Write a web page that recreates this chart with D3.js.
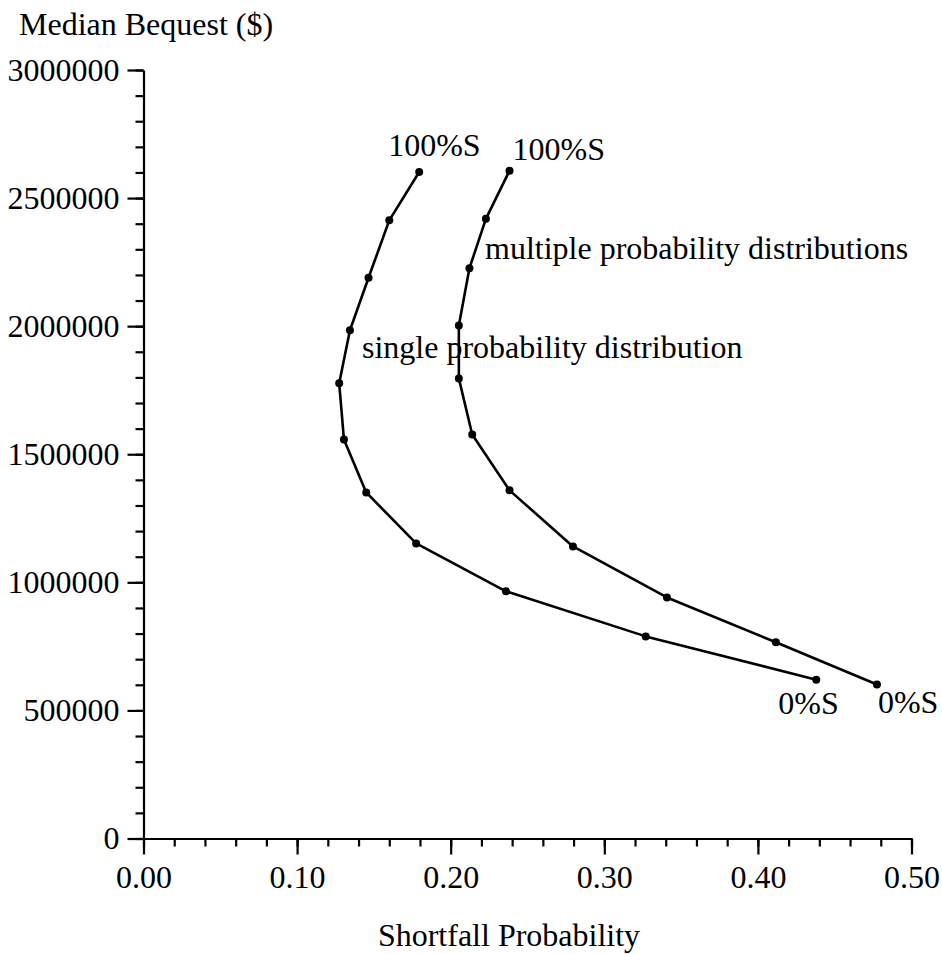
<!DOCTYPE html>
<html>
<head>
<meta charset="utf-8">
<script src="https://cdn.jsdelivr.net/npm/d3@7"></script>
<style>
  body { margin: 0; background: #fff; }
  svg { display: block; }
  text { font-family: "Liberation Serif", "Times New Roman", serif; fill: #000; }
  .axis path, .axis line { stroke: #000; stroke-width: 2.2; }
  .curve { fill: none; stroke: #000; stroke-width: 2.6; stroke-linejoin: round; }
</style>
</head>
<body>
<svg id="chart" width="942" height="954"></svg>
<script>
'use strict';

// single probability distribution (from 0%S at bottom to 100%S at top)
var singleX = [0.438, 0.327, 0.236, 0.1775, 0.145, 0.1305, 0.1274, 0.1344, 0.1465, 0.160, 0.1795];
var singleY = [620000, 789000, 965000, 1152000, 1351000, 1558000, 1777000, 1984000, 2189000, 2413000, 2602000];

// multiple probability distributions
var multiX = [0.4775, 0.4117, 0.3408, 0.2796, 0.2383, 0.214, 0.2053, 0.2053, 0.2122, 0.2229, 0.2383];
var multiY = [601000, 766000, 941000, 1140000, 1359000, 1577000, 1796000, 2003000, 2226000, 2419000, 2607000];

var xTicks = [0, 0.1, 0.2, 0.3, 0.4, 0.5];
var yTicks = [0, 500000, 1000000, 1500000, 2000000, 2500000, 3000000];

var svg = d3.select('#chart'),
    fontSize = 32;

var x = d3.scaleLinear().domain([0, 0.5]).range([143.5, 911.5]),
    y = d3.scaleLinear().domain([0, 3000000]).range([838.5, 70]);

// minor ticks first, majors on top
svg.append('g').attr('class', 'axis')
  .attr('transform', 'translate(0,' + y(0) + ')')
  .call(d3.axisBottom(x).tickValues(d3.range(0, 0.5001, 0.02)).tickSize(8).tickFormat(''))
  .select('.domain').remove();

svg.append('g').attr('class', 'axis')
  .attr('transform', 'translate(' + x(0) + ',0)')
  .call(d3.axisLeft(y).tickValues(d3.range(0, 3000001, 100000)).tickSize(8).tickFormat(''))
  .select('.domain').remove();

svg.append('g').attr('class', 'axis')
  .attr('transform', 'translate(0,' + y(0) + ')')
  .call(d3.axisBottom(x).tickValues(xTicks).tickSize(16).tickSizeOuter(0).tickPadding(11).tickFormat(d3.format('.2f')));

svg.append('g').attr('class', 'axis')
  .attr('transform', 'translate(' + x(0) + ',0)')
  .call(d3.axisLeft(y).tickValues(yTicks).tickSize(16).tickSizeOuter(0).tickPadding(8).tickFormat(d3.format('d')));

svg.selectAll('.axis text')
  .attr('font-size', fontSize)
  .style('font-family', '"Liberation Serif", "Times New Roman", serif');

// axis titles
svg.append('text').attr('x', 19).attr('y', 35)
  .attr('font-size', fontSize).text('Median Bequest ($)');
svg.append('text').attr('x', 509).attr('y', 946)
  .attr('text-anchor', 'middle').attr('font-size', fontSize).text('Shortfall Probability');

var line = d3.line()
  .x(function (d) { return x(d[0]); })
  .y(function (d) { return y(d[1]); });

var series = [
  { xs: singleX, ys: singleY, name: 'single probability distribution' },
  { xs: multiX, ys: multiY, name: 'multiple probability distributions' }
];

series.forEach(function (s) {
  var pts = d3.zip(s.xs, s.ys);
  svg.append('path').attr('class', 'curve').attr('d', line(pts));
  svg.append('g').selectAll('circle')
    .data(pts)
    .enter().append('circle')
    .attr('cx', function (d) { return x(d[0]); })
    .attr('cy', function (d) { return y(d[1]); })
    .attr('r', 4)
    .attr('fill', '#000');
});

// annotations, offsets from the end points
function label(px, py, dx, dy, txt) {
  svg.append('text')
    .attr('x', x(px) + dx).attr('y', y(py) + dy)
    .attr('font-size', fontSize).text(txt);
}

label(singleX[10], singleY[10], -31, -16, '100%S');
label(multiX[10], multiY[10], 3, -11, '100%S');
label(singleX[0], singleY[0], -38, 34, '0%S');
label(multiX[0], multiY[0], 1, 28, '0%S');

svg.append('text').attr('x', 362).attr('y', 358)
  .attr('font-size', fontSize).text(series[0].name);
svg.append('text').attr('x', 485).attr('y', 259)
  .attr('font-size', fontSize).text(series[1].name);
</script>
</body>
</html>
